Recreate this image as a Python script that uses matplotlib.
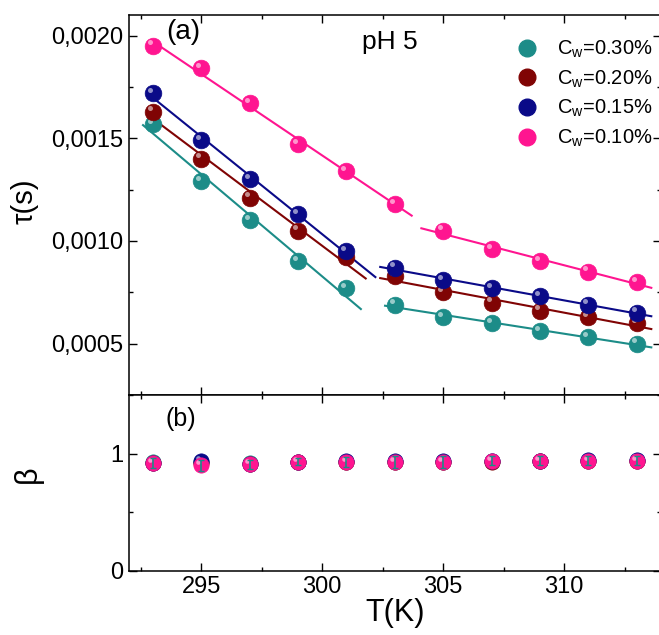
import numpy as np
import matplotlib
matplotlib.use("Agg")
import matplotlib.pyplot as plt
from matplotlib.ticker import MultipleLocator, FuncFormatter
from matplotlib.transforms import offset_copy

plt.rcParams['font.family'] = ['Liberation Sans', 'DejaVu Sans']
plt.rcParams['mathtext.fontset'] = 'custom'
plt.rcParams['mathtext.rm'] = 'Liberation Sans'
plt.rcParams['mathtext.it'] = 'Liberation Sans:italic'

# temperatures (K)
T = [293, 295, 297, 299, 301, 303, 305, 307, 309, 311, 313]

# relaxation time tau (s)
tau_030 = [0.00157, 0.00129, 0.00110, 0.00090, 0.00077, 0.00069, 0.00063, 0.00060, 0.00056, 0.00053, 0.00050]
tau_020 = [0.00163, 0.00140, 0.00121, 0.00105, 0.00092, 0.00083, 0.00075, 0.00070, 0.00066, 0.00063, 0.00060]
tau_015 = [0.00172, 0.00149, 0.00130, 0.00113, 0.00095, 0.00087, 0.00081, 0.00077, 0.00073, 0.00069, 0.00065]
tau_010 = [0.00195, 0.00184, 0.00167, 0.00147, 0.00134, 0.00118, 0.00105, 0.00096, 0.00090, 0.00085, 0.00080]

# stretching exponent beta
beta_030 = [0.93, 0.93, 0.92, 0.93, 0.93, 0.93, 0.93, 0.94, 0.94, 0.94, 0.94]
beta_020 = [0.92, 0.92, 0.91, 0.93, 0.93, 0.93, 0.93, 0.93, 0.94, 0.94, 0.94]
beta_015 = [0.92, 0.94, 0.91, 0.93, 0.94, 0.94, 0.94, 0.94, 0.94, 0.95, 0.95]
beta_010 = [0.92, 0.90, 0.91, 0.93, 0.93, 0.93, 0.93, 0.94, 0.94, 0.94, 0.94]
beta_err = [0.04, 0.05, 0.04, 0.03, 0.04, 0.05, 0.05, 0.04, 0.04, 0.04, 0.04]

labels = ['C$_\\mathrm{w}$=0.30%', 'C$_\\mathrm{w}$=0.20%',
          'C$_\\mathrm{w}$=0.15%', 'C$_\\mathrm{w}$=0.10%']
colors = ['#1c8c88', '#800404', '#0a0a88', '#ff1590']

# number of points in the low-T fit, and x-extent of the two fit segments
n_low = [5, 5, 5, 6]
seg_low = [(292.6, 301.6), (293.0, 301.8), (293.0, 302.2), (293.0, 303.7)]
seg_high = [(302.6, 313.6), (302.4, 313.6), (302.4, 313.6), (304.1, 313.6)]

taus = [tau_030, tau_020, tau_015, tau_010]
betas = [beta_030, beta_020, beta_015, beta_010]

fig = plt.figure(figsize=(6.59, 6.35), dpi=100)
ax1 = fig.add_axes([0.195, 0.378, 0.808, 0.5984])
ax2 = fig.add_axes([0.195, 0.1008, 0.808, 0.2772], sharex=ax1)

Tarr = np.array(T, dtype=float)


def balls(ax, x, y, c, ms, z):
    ax.plot(x, y, 'o', color=c, ms=ms, mec=c, mew=0.5, zorder=z)
    hl = offset_copy(ax.transData, fig=fig, x=-ms * 0.18, y=ms * 0.2, units='points')
    ax.plot(x, y, 'o', color='white', ms=ms * 0.3, mew=0, alpha=0.55,
            transform=hl, zorder=z + 0.1)


for i in range(4):
    y = np.array(taus[i])
    n = n_low[i]
    p1 = np.polyfit(Tarr[:n], y[:n], 1)
    p2 = np.polyfit(Tarr[n:], y[n:], 1)
    xs1 = np.array(seg_low[i])
    xs2 = np.array(seg_high[i])
    ax1.plot(xs1, np.polyval(p1, xs1), '-', color=colors[i], lw=1.5, zorder=2)
    ax1.plot(xs2, np.polyval(p2, xs2), '-', color=colors[i], lw=1.5, zorder=2)
    balls(ax1, T, taus[i], colors[i], 12, 3 + i)

for i in range(4):
    balls(ax2, T, betas[i], colors[i], 11, 3 + i)
ax2.errorbar(T, beta_010, yerr=beta_err, fmt='none', ecolor=colors[0],
             elinewidth=1.2, capsize=2.0, capthick=1.0, zorder=10)

# legend
handles = [plt.Line2D([], [], ls='none', marker='o', ms=12, color=c, mec=c) for c in colors]
ax1.legend(handles, labels, loc='upper right', bbox_to_anchor=(1.01, 0.975),
           frameon=False, fontsize=14.5, handletextpad=0.45, labelspacing=0.42,
           borderaxespad=0.3)

ax1.text(0.07, 0.99, '(a)', transform=ax1.transAxes, fontsize=20, va='top')
ax1.text(0.438, 0.96, 'pH 5', transform=ax1.transAxes, fontsize=19, va='top')
ax2.text(0.07, 0.93, '(b)', transform=ax2.transAxes, fontsize=18, va='top')

ax1.set_xlim(292.0, 314.0)
ax1.set_ylim(0.00025, 0.0021)
ax2.set_ylim(0, 1.5)

ax1.yaxis.set_major_locator(MultipleLocator(0.0005))
ax1.yaxis.set_minor_locator(MultipleLocator(0.00025))
ax1.yaxis.set_major_formatter(FuncFormatter(lambda v, p: ('%.4f' % v).replace('.', ',')))
ax1.xaxis.set_major_locator(MultipleLocator(5))
ax1.xaxis.set_minor_locator(MultipleLocator(2.5))
ax2.yaxis.set_major_locator(MultipleLocator(1))
ax2.yaxis.set_minor_locator(MultipleLocator(0.5))

for ax in (ax1, ax2):
    ax.tick_params(which='both', direction='in', top=True, right=True, labelsize=17, width=1)
    ax.tick_params(which='major', length=6)
    ax.tick_params(which='minor', length=3)
    for s in ax.spines.values():
        s.set_linewidth(1.1)
ax1.tick_params(axis='x', labelbottom=False)

ax1.set_ylabel('τ(s)', fontsize=21)
ax2.set_ylabel('β', fontsize=22)
ax2.set_xlabel('T(K)', fontsize=22, labelpad=0)
ax1.yaxis.set_label_coords(-0.168, 0.51)
ax2.yaxis.set_label_coords(-0.16, 0.55)

fig.savefig('out.png', dpi=100)
